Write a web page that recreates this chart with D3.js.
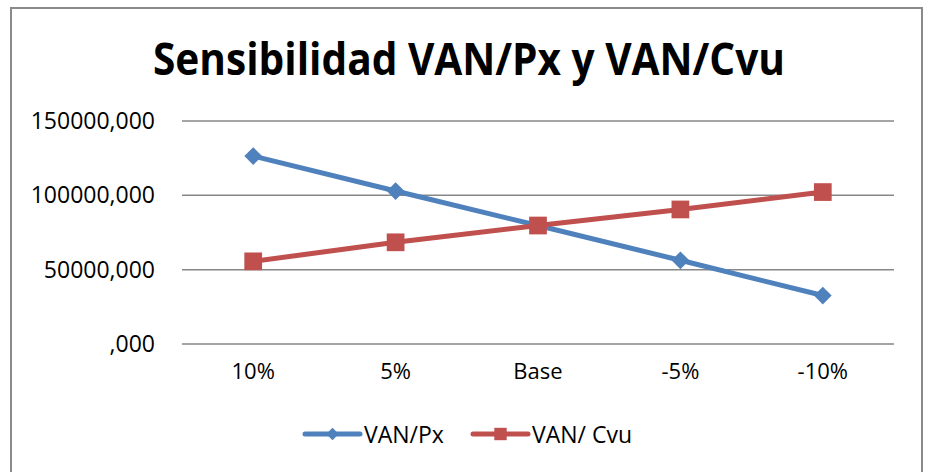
<!DOCTYPE html>
<html>
<head>
<meta charset="utf-8">
<script src="https://cdn.jsdelivr.net/npm/d3@7"></script>
<style>
  body { margin: 0; background: #fff; }
  text { font-family: "Open Sans", sans-serif; fill: #000; }
</style>
</head>
<body>
<div id="content"></div>
<script>
// chart data
var categories = ['10%', '5%', 'Base', '-5%', '-10%']
var vanPx = [126400, 102900, 79700, 56300, 32600]
var vanCvu = [55600, 68400, 79700, 90500, 102200]
var yTicks = [0, 50000, 100000, 150000]
var yTickLabels = [',000', '50000,000', '100000,000', '150000,000']
var seriesNames = ['VAN/Px', 'VAN/ Cvu']
var seriesColors = ['#4F81BD', '#C0504D']

var svgwidth = 926
var svgheight = 472
var margin = {top: 121, right: 32, bottom: 128, left: 182}
var width = svgwidth - margin.left - margin.right
var height = svgheight - margin.top - margin.bottom

var svg = d3.select("#content").append("svg")
  .attr("width", svgwidth)
  .attr("height", svgheight)

// outer chart frame
svg.append("rect")
  .attr("x", 11)
  .attr("y", 8)
  .attr("width", 911)
  .attr("height", 480)
  .attr("fill", "#fff")
  .style("stroke", "#8a8a8a")
  .style("stroke-width", 2)

// title
svg.append("text")
  .attr("x", 153)
  .attr("y", 75)
  .attr("textLength", 632)
  .attr("lengthAdjust", "spacingAndGlyphs")
  .style("font-size", "45px")
  .style("font-weight", "bold")
  .text("Sensibilidad VAN/Px y VAN/Cvu")

var x = d3.scaleBand()
  .domain(categories)
  .range([0, width])

var yScale = d3.scaleLinear()
  .domain([0, 150000])
  .range([height, 0])

var g = svg.append("g").attr("transform", "translate(" + margin.left + "," + margin.top + ")")

// gridlines
g.selectAll(".grid")
  .data(yTicks)
  .enter().append("line")
  .attr("class", "grid")
  .attr("x1", 0)
  .attr("x2", width)
  .attr("y1", function(d) { return yScale(d) })
  .attr("y2", function(d) { return yScale(d) })
  .style("stroke", "#878787")
  .style("stroke-width", 1.5)

// y axis labels
var yAxis = d3.axisLeft(yScale)
  .tickValues(yTicks)
  .tickSize(0)
  .tickPadding(27)
  .tickFormat(function(d, i) { return yTickLabels[i] })
g.append("g").call(yAxis)
  .call(function(a) { a.select(".domain").remove() })
  .selectAll("text")
  .style("font-size", "23px")
  .style("font-family", '"Open Sans", sans-serif')
  .attr("fill", "#000")

// x axis labels
var xAxis = d3.axisBottom(x).tickSize(0).tickPadding(19)
g.append("g")
  .attr("transform", "translate(0," + height + ")")
  .call(xAxis)
  .call(function(a) { a.select(".domain").remove() })
  .selectAll("text")
  .style("font-size", "22px")
  .style("font-family", '"Open Sans", sans-serif')
  .attr("fill", "#000")

var cx = function(d, i) { return x(categories[i]) + x.bandwidth() / 2 }
var line = d3.line()
  .x(cx)
  .y(function(d) { return yScale(d) })

// VAN/Px
g.append("path")
  .datum(vanPx)
  .attr("d", line)
  .attr("fill", "none")
  .style("stroke", seriesColors[0])
  .style("stroke-width", 5)
  .style("stroke-linejoin", "round")
g.selectAll(".ptPx")
  .data(vanPx)
  .enter().append("path")
  .attr("class", "ptPx")
  .attr("d", d3.symbol().type(d3.symbolSquare2).size(200))
  .attr("transform", function(d, i) { return "translate(" + cx(d, i) + "," + yScale(d) + ") rotate(45)" })
  .attr("fill", seriesColors[0])

// VAN/Cvu
g.append("path")
  .datum(vanCvu)
  .attr("d", line)
  .attr("fill", "none")
  .style("stroke", seriesColors[1])
  .style("stroke-width", 5)
  .style("stroke-linejoin", "round")
g.selectAll(".ptCvu")
  .data(vanCvu)
  .enter().append("path")
  .attr("class", "ptCvu")
  .attr("d", d3.symbol().type(d3.symbolSquare2).size(400))
  .attr("transform", function(d, i) { return "translate(" + cx(d, i) + "," + yScale(d) + ")" })
  .attr("fill", seriesColors[1])

// legend
var legendX = [305, 473]
for (var i = 0; i < seriesNames.length; i++) {
  svg.append("line")
    .attr("x1", legendX[i])
    .attr("x2", legendX[i] + 55)
    .attr("y1", 434)
    .attr("y2", 434)
    .style("stroke", seriesColors[i])
    .style("stroke-width", 5)
    .style("stroke-linecap", "round")
  svg.append("path")
    .attr("d", d3.symbol().type(d3.symbolSquare2).size(i == 0 ? 100 : 196))
    .attr("transform", "translate(" + (legendX[i] + 27.5) + ",434)" + (i == 0 ? " rotate(45)" : ""))
    .attr("fill", seriesColors[i])
  svg.append("text")
    .attr("x", legendX[i] + 59)
    .attr("y", 443)
    .style("font-size", "23px")
    .text(seriesNames[i])
}
</script>
</body>
</html>
